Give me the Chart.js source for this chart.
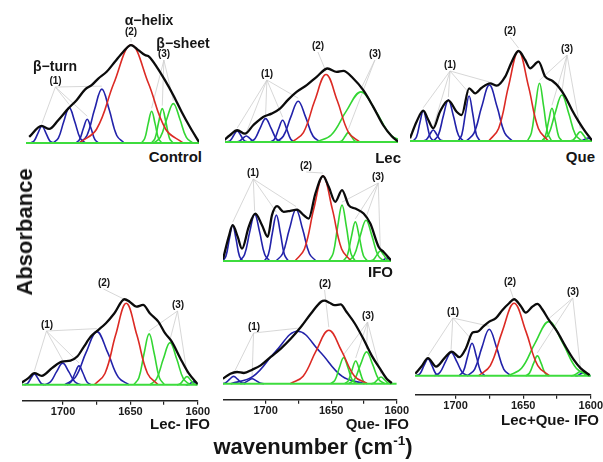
<!DOCTYPE html>
<html><head><meta charset="utf-8">
<script src="https://cdn.jsdelivr.net/npm/chart.js@4.4.1/dist/chart.umd.min.js"></script>
<style>
html,body{margin:0;padding:0;background:#fff;}
body{width:603px;height:462px;overflow:hidden;position:relative;font-family:"Liberation Sans",Arial,sans-serif;}
canvas{position:absolute;}
.t{position:absolute;font-weight:bold;color:#151515;white-space:nowrap;line-height:1;z-index:5;}
sup{font-size:62%;vertical-align:0.7em;}
</style></head><body>
<script>
// ---------- categories / labels ----------
const panelNames = ['Control', 'Lec', 'Que', 'IFO', 'Lec- IFO', 'Que- IFO', 'Lec+Que- IFO'];
const groupLabels = ['(1)', '(2)', '(3)'];
const structureNames = ['β−turn', 'α−helix', 'β−sheet'];
const tickLabels = [1700, 1650, 1600];

// ---------- data: [wavenumber cm-1, absorbance (a.u.)] ----------
const controlEnvelope = [[1727.6,6],[1718.3,17],[1712.6,14],[1705.8,22.7],[1698.3,34.3],[1692,42.7],[1685.7,53.3],[1680.7,57.7],[1675.7,64.3],[1669.4,71],[1663.2,81],[1656.9,91],[1651.1,97.7],[1645.6,92.7],[1640.6,87.7],[1637.4,86],[1631.8,76],[1625.6,62.7],[1619.3,47.7],[1613,31],[1606.8,16],[1600,1]];
const controlBlue = [
 [[1726.7,0],[1723.8,2.3],[1720.9,10.2],[1718,16.7],[1715.1,10.2],[1712.2,2.3],[1709.3,0]],
 [[1709.8,0],[1705.7,4.9],[1701.6,21.5],[1697.5,35.3],[1693.4,21.5],[1689.3,4.9],[1685.2,0]],
 [[1692.7,0],[1689.8,3.3],[1686.9,14.5],[1684,23.7],[1681.1,14.5],[1678.2,3.3],[1675.3,0]],
 [[1689.8,0],[1684.2,7.5],[1678.6,32.8],[1673,53.7],[1667.4,32.8],[1661.8,7.5],[1656.2,0]]
];
const controlRed = [[[1690,0],[1677,13.7],[1664,59.6],[1651,97.7],[1638,59.6],[1625,13.7],[1612,0]]];
const controlGreen = [
 [[1643.4,0],[1640.8,4.4],[1638.2,19.3],[1635.6,31.7],[1633,19.3],[1630.4,4.4],[1627.8,0]],
 [[1635.7,0],[1633,4.8],[1630.3,20.9],[1627.6,34.3],[1624.9,20.9],[1622.2,4.8],[1619.5,0]],
 [[1634,0],[1629.1,5.5],[1624.2,24],[1619.3,39.3],[1614.4,24],[1609.5,5.5],[1604.6,0]]
];

const lecEnvelope = [[1730.8,1.7],[1726.3,6.7],[1720.8,11.7],[1715,8.3],[1708.8,16.7],[1701.3,25],[1695,28.3],[1688.7,33.3],[1682.5,42.3],[1676.2,50],[1668.6,56.7],[1661.1,65],[1652.9,73.3],[1646.1,70],[1641.1,71],[1633.6,63.3],[1626.1,51.7],[1618.6,35],[1611.1,16.7],[1604.7,5.7],[1600,0.5]];
const lecBlue = [
 [[1728.6,0],[1726,1.5],[1723.4,6.7],[1720.8,11],[1718.2,6.7],[1715.6,1.5],[1713,0]],
 [[1721.8,0],[1719.2,0.8],[1716.6,3.7],[1714,6],[1711.4,3.7],[1708.8,0.8],[1706.2,0]],
 [[1711.5,0],[1707.5,3.3],[1703.5,14.2],[1699.5,23.3],[1695.5,14.2],[1691.5,3.3],[1687.5,0]],
 [[1695.7,0],[1692.7,3],[1689.7,13.2],[1686.7,21.7],[1683.7,13.2],[1680.7,3],[1677.7,0]],
 [[1691.8,0],[1686.2,5.7],[1680.6,24.8],[1675,40.7],[1669.4,24.8],[1663.8,5.7],[1658.2,0]]
];
const lecRed = [[[1679.6,0],[1671.1,9.4],[1662.6,41.1],[1654.1,67.3],[1645.6,41.1],[1637.1,9.4],[1628.6,0]]];
const lecGreen = [
 [[1661.4,0],[1650.2,7],[1639,30.5],[1627.8,50],[1616.6,30.5],[1605.4,7],[1594.2,0]],
 [[1644.3,0],[1642,1.3],[1639.7,5.7],[1637.4,9.3],[1635.1,5.7],[1632.8,1.3],[1630.5,0]]
];

const queEnvelope = [[1730,2.7],[1725.3,19.3],[1720.5,30.3],[1716.9,21],[1713.4,12.7],[1708.6,29.3],[1702.6,40.7],[1696.7,29.3],[1693.1,26],[1687.8,52.7],[1683.5,47.7],[1678.8,53.3],[1672.8,57.7],[1668,55.3],[1662,64.3],[1657.3,79.3],[1652.5,90],[1647.7,81],[1644.2,72.7],[1638.2,79.3],[1633.4,64.3],[1628.2,60],[1623.9,54.3],[1619.1,44.3],[1614.3,31],[1609.5,19.3],[1604.8,9.3],[1600,0.7]];
const queBlue = [
 [[1727.7,0],[1725.3,4.2],[1722.9,18.5],[1720.5,30.3],[1718.1,18.5],[1715.7,4.2],[1713.3,0]],
 [[1720.6,0],[1718.2,1.5],[1715.8,6.7],[1713.4,11],[1711,6.7],[1708.6,1.5],[1706.2,0]],
 [[1713.4,0],[1709.8,5.7],[1706.2,25],[1702.6,41],[1699,25],[1695.4,5.7],[1691.8,0]],
 [[1695.6,0],[1693,6.3],[1690.4,27.5],[1687.8,45],[1685.2,27.5],[1682.6,6.3],[1680,0]],
 [[1689.8,0],[1684.3,7.8],[1678.8,34.2],[1673.3,56],[1667.8,34.2],[1662.3,7.8],[1656.8,0]],
 [[1609,0],[1607,0.4],[1605,1.8],[1603,3],[1601,1.8],[1599,0.4],[1597,0]]
];
const queRed = [[[1673.8,0],[1666.7,12.6],[1659.6,54.9],[1652.5,90],[1645.4,54.9],[1638.3,12.6],[1631.2,0]]];
const queGreen = [
 [[1646.2,0],[1643.3,8.1],[1640.4,35.2],[1637.5,57.7],[1634.6,35.2],[1631.7,8.1],[1628.8,0]],
 [[1635.8,0],[1633.4,4.6],[1631,19.9],[1628.6,32.7],[1626.2,19.9],[1623.8,4.6],[1621.4,0]],
 [[1635.9,0],[1631.1,6.4],[1626.3,28.1],[1621.5,46],[1616.7,28.1],[1611.9,6.4],[1607.1,0]],
 [[1615.6,0],[1613.2,1.3],[1610.8,5.7],[1608.4,9.3],[1606,5.7],[1603.6,1.3],[1601.2,0]]
];

const ifoEnvelope = [[1730,1.7],[1725.6,24],[1722.5,35.7],[1718.6,24],[1715.3,12.3],[1710.1,34],[1705,47.3],[1699.8,35.7],[1695.4,24],[1692.1,45.7],[1688.2,54.7],[1683.1,49],[1677.9,50],[1672.7,51.3],[1667.6,45.7],[1663.7,42.3],[1658.5,67.3],[1652.6,84.7],[1648.2,74],[1643.1,59],[1637.9,70.7],[1632.8,55.7],[1627.6,52.3],[1621.2,47.3],[1616,37.3],[1609.5,14],[1605.7,9],[1600,0.7]];
const ifoBlue = [
 [[1730.3,0],[1727.7,5],[1725.1,21.8],[1722.5,35.7],[1719.9,21.8],[1717.3,5],[1714.7,0]],
 [[1717.2,0],[1713.3,6.5],[1709.4,28.5],[1705.5,46.7],[1701.6,28.5],[1697.7,6.5],[1693.8,0]],
 [[1698,0],[1694.9,6.4],[1691.8,27.9],[1688.7,45.7],[1685.6,27.9],[1682.5,6.4],[1679.4,0]],
 [[1689.1,0],[1683.9,7.2],[1678.7,31.3],[1673.5,51.3],[1668.3,31.3],[1663.1,7.2],[1657.9,0]],
 [[1609,0],[1607,0.4],[1605,1.8],[1603,3],[1601,1.8],[1599,0.4],[1597,0]]
];
const ifoRed = [[[1674.2,0],[1667,11.9],[1659.8,51.7],[1652.6,84.7],[1645.4,51.7],[1638.2,11.9],[1631,0]]];
const ifoGreen = [
 [[1648.1,0],[1644.7,7.8],[1641.3,34],[1637.9,55.7],[1634.5,34],[1631.1,7.8],[1627.7,0]],
 [[1636.9,0],[1633.8,5.5],[1630.7,23.8],[1627.6,39],[1624.5,23.8],[1621.4,5.5],[1618.3,0]],
 [[1633.1,0],[1628.5,5.7],[1623.9,24.8],[1619.3,40.7],[1614.7,24.8],[1610.1,5.7],[1605.5,0]],
 [[1616.1,0],[1613.5,1.4],[1610.9,6.1],[1608.3,10],[1605.7,6.1],[1603.1,1.4],[1600.5,0]]
];

const lecIfoEnvelope = [[1731.3,1.7],[1725.8,6.7],[1721.3,11.7],[1715.8,9],[1708.3,16.7],[1700.8,23.3],[1694.5,24.3],[1689.5,28.3],[1684.5,38.3],[1679.4,48.3],[1674.4,54.3],[1668.2,61.7],[1661.9,71.7],[1654.4,85.7],[1650.6,83.3],[1645.6,78.3],[1640.6,80],[1635.6,71.7],[1629.3,63.3],[1624.3,51.7],[1619.3,43.3],[1613,26.7],[1606.8,11.7],[1600,0.7]];
const lecIfoBlue = [
 [[1728.8,0],[1726.3,1.5],[1723.8,6.7],[1721.3,11],[1718.8,6.7],[1716.3,1.5],[1713.8,0]],
 [[1713.8,0],[1709.3,3],[1704.8,13.2],[1700.3,21.7],[1695.8,13.2],[1691.3,3],[1686.8,0]],
 [[1697.2,0],[1694.2,2.7],[1691.2,11.6],[1688.2,19],[1685.2,11.6],[1682.2,2.7],[1679.2,0]],
 [[1698.9,0],[1690.9,7.5],[1682.9,32.5],[1674.9,53.3],[1666.9,32.5],[1658.9,7.5],[1650.9,0]],
 [[1609,0],[1607,0.4],[1605,1.8],[1603,3],[1601,1.8],[1599,0.4],[1597,0]]
];
const lecIfoRed = [[[1676.8,0],[1668.9,11.4],[1661,49.8],[1653.1,81.7],[1645.2,49.8],[1637.3,11.4],[1629.4,0]]];
const lecIfoGreen = [
 [[1647.5,0],[1643.7,7.1],[1639.9,31.1],[1636.1,51],[1632.3,31.1],[1628.5,7.1],[1624.7,0]],
 [[1635.6,0],[1630.6,5.9],[1625.6,25.8],[1620.6,42.3],[1615.6,25.8],[1610.6,5.9],[1605.6,0]],
 [[1615.5,0],[1613,1.2],[1610.5,5.1],[1608,8.3],[1605.5,5.1],[1603,1.2],[1600.5,0]]
];

const queIfoEnvelope = [[1732.5,5],[1726.9,10],[1721.8,11.7],[1716.6,10.7],[1710.2,14],[1703.8,18.3],[1696.1,26.7],[1688.4,35],[1680.7,45],[1673,56.7],[1665.4,70],[1657.7,81.7],[1655.1,82.7],[1651.3,80.7],[1647.4,78.3],[1642.8,79],[1638.4,71.7],[1632,60],[1625.6,45],[1619.2,28.3],[1612.8,15],[1607.7,5],[1603.8,0.7]];
const queIfoBlue = [
 [[1733.4,0],[1730.4,1],[1727.4,4.5],[1724.4,7.3],[1721.4,4.5],[1718.4,1],[1715.4,0]],
 [[1719.3,0],[1716.3,0.7],[1713.3,3.1],[1710.3,5],[1707.3,3.1],[1704.3,0.7],[1701.3,0]],
 [[1726.6,0],[1709.6,7.3],[1692.6,31.9],[1675.6,52.3],[1658.6,31.9],[1641.6,7.3],[1624.6,0]]
];
const queIfoRed = [[[1681.2,0],[1671.4,7.5],[1661.6,32.5],[1651.8,53.3],[1642,32.5],[1632.2,7.5],[1622.4,0]]];
const queIfoGreen = [
 [[1650.4,0],[1647.1,3.6],[1643.8,15.9],[1640.5,26],[1637.2,15.9],[1633.9,3.6],[1630.6,0]],
 [[1639.7,0],[1636.9,3.2],[1634.1,13.8],[1631.3,22.7],[1628.5,13.8],[1625.7,3.2],[1622.9,0]],
 [[1636.8,0],[1632.2,4.4],[1627.6,19.3],[1623,31.7],[1618.4,19.3],[1613.8,4.4],[1609.2,0]],
 [[1619.8,0],[1617.2,0.9],[1614.6,4.1],[1612,6.7],[1609.4,4.1],[1606.8,0.9],[1604.2,0]]
];

const lqIfoEnvelope = [[1729.8,2],[1725.4,9],[1720.4,17.7],[1714.4,9.3],[1708.2,17.7],[1702.8,24.3],[1697.2,18.7],[1692.3,27.7],[1687.4,43.3],[1683.7,44.3],[1680,48.7],[1675.1,54.3],[1670.2,57.7],[1665.3,66],[1660.4,72.7],[1656.7,76.7],[1651.8,70],[1648.1,63.3],[1643.2,69.3],[1639.5,72],[1635.9,66.7],[1631,56],[1624.8,44.3],[1618.6,29.3],[1612.5,16],[1607.6,7.7],[1600.8,0.7]];
const lqIfoBlue = [
 [[1729.1,0],[1726.2,2.4],[1723.3,10.4],[1720.4,17],[1717.5,10.4],[1714.7,2.4],[1711.8,0]],
 [[1715.7,0],[1711.6,3.3],[1707.4,14.2],[1703.3,23.3],[1699.1,14.2],[1695,3.3],[1690.8,0]],
 [[1697.4,0],[1694.2,4.6],[1691,19.9],[1687.8,32.7],[1684.7,19.9],[1681.5,4.6],[1678.3,0]],
 [[1691.3,0],[1685.9,6.5],[1680.5,28.5],[1675.1,46.7],[1669.7,28.5],[1664.3,6.5],[1658.9,0]],
 [[1611.6,0],[1609.6,0.4],[1607.7,1.8],[1605.8,3],[1603.9,1.8],[1601.9,0.4],[1600,0]]
];
const lqIfoRed = [[[1683,0],[1674.3,10.2],[1665.5,44.3],[1656.7,72.7],[1647.9,44.3],[1639.2,10.2],[1630.4,0]]];
const lqIfoGreen = [
 [[1661.3,0],[1651.2,7.6],[1641.1,33.1],[1631,54.3],[1620.8,33.1],[1610.7,7.6],[1600.6,0]],
 [[1648.2,0],[1645.3,2.8],[1642.4,12.2],[1639.5,20],[1636.6,12.2],[1633.8,2.8],[1630.9,0]],
 [[1614.9,0],[1612.4,0.6],[1610,2.6],[1607.6,4.3],[1605.2,2.6],[1602.8,0.6],[1600.4,0]]
];

// ---------- styles ----------
const COL = {env:'#0b0b0b', blue:'#2222aa', red:'#dc2a24', green:'#33d633', base:'#3ddc3d', lead:'#cdcdcd'};
const FONT = '"Liberation Sans", Arial, sans-serif';
Chart.defaults.font.family = FONT;

// ---------- layout (page pixels) ----------
const panels = [
 {env:controlEnvelope, blue:controlBlue, red:controlRed, green:controlGreen,
  f:{x1600:199, ppc:1.33, xMax:1730, baseY:142.7, topY:26, botY:145.7, axis:false},
  nameAt:[202,156], notes:[[55.5,81],[131,32],[164,54]]},
 {env:lecEnvelope, blue:lecBlue, red:lecRed, green:lecGreen,
  f:{x1600:398, ppc:1.33, xMax:1730, baseY:141.7, topY:38, botY:144.7, axis:false},
  nameAt:[401,157], notes:[[267,74],[318,46],[375,54]]},
 {env:queEnvelope, blue:queBlue, red:queRed, green:queGreen,
  f:{x1600:591.7, ppc:1.398, xMax:1730, baseY:141, topY:24, botY:144, axis:false},
  nameAt:[595,156], notes:[[450,65],[510,31],[567,49]]},
 {env:ifoEnvelope, blue:ifoBlue, red:ifoRed, green:ifoGreen,
  f:{x1600:390.7, ppc:1.292, xMax:1730, baseY:260.7, topY:158, botY:263.7, axis:false},
  nameAt:[393,271], notes:[[253,173],[306,166],[378,177]]},
 {env:lecIfoEnvelope, blue:lecIfoBlue, red:lecIfoRed, green:lecIfoGreen,
  f:{x1600:198, ppc:1.345, xMax:1730.5, baseY:385, topY:275, botY:401, axis:true},
  nameAt:[210,423], notes:[[47,325],[104,283],[178,305]]},
 {env:queIfoEnvelope, blue:queIfoBlue, red:queIfoRed, green:queIfoGreen,
  f:{x1600:397, ppc:1.31, xMax:1732.5, baseY:383.3, topY:275, botY:399.3, axis:true},
  nameAt:[409,423], notes:[[254,327],[325,284],[368,316]]},
 {env:lqIfoEnvelope, blue:lqIfoBlue, red:lqIfoRed, green:lqIfoGreen,
  f:{x1600:590.7, ppc:1.35, xMax:1730, baseY:376, topY:275, botY:395, axis:true},
  nameAt:[599,419], notes:[[453,312],[510,282],[573,292]]}
];

const pts = arr => arr.map(q => ({x:q[0], y:q[1]}));
const line = (arr, color, w, smooth) => Object.assign({data:pts(arr), borderColor:color, borderWidth:w, pointRadius:0, fill:false},
  smooth ? {tension:0.4, cubicInterpolationMode:'default'} : {cubicInterpolationMode:'monotone'});
const peak = comp => comp.reduce((m, q) => q[1] > m[1] ? q : m);

function config(p, geo){
  const f = p.f;
  const datasets = [line(p.env, COL.env, 2.3, false), line([[f.xMax,0],[1600,0]], COL.base, 2, false)];
  p.red.forEach(c => datasets.push(line(c, COL.red, 1.6, true)));
  p.green.forEach(c => datasets.push(line(c, COL.green, 1.6, true)));
  p.blue.forEach(c => datasets.push(line(c, COL.blue, 1.6, true)));
  const groups = [p.blue.filter(c => peak(c)[0] > 1660), p.red, p.green];
  const leader = {id:'leader', beforeDatasetsDraw(chart){
    const ctx = chart.ctx, xs = chart.scales.x, ys = chart.scales.y, A = chart.chartArea;
    ctx.save(); ctx.strokeStyle = COL.lead; ctx.lineWidth = 0.8;
    groups.forEach((g, i) => {
      const lx = p.notes[i][0] - geo.caL + A.left, ly = p.notes[i][1] + 6 - geo.caT + A.top;
      g.forEach(c => { const pk = peak(c); ctx.beginPath(); ctx.moveTo(lx, ly);
        ctx.lineTo(xs.getPixelForValue(pk[0]), ys.getPixelForValue(pk[1]) - 3); ctx.stroke(); });
    });
    ctx.restore();
  }};
  return {type:'line', data:{datasets}, plugins:[leader], options:{
    responsive:false, animation:false, events:[], layout:{padding:0},
    plugins:{legend:{display:false}, tooltip:{enabled:false}, title:{display:false}},
    scales:{
      x:{type:'linear', reverse:true, min:1600, max:f.xMax, display:f.axis,
         afterBuildTicks: ax => { ax.ticks = ax.ticks.filter(t => t.value % 25 === 0); },
         grid:{display:true, drawOnChartArea:false, drawTicks:true, tickLength:4, color:'#222', lineWidth:1.2},
         border:{display:true, color:'#222', width:1.6},
         ticks:{stepSize:25, autoSkip:false, maxRotation:0, minRotation:0, padding:1, color:'#1a1a1a',
                font:{family:FONT, size:11, weight:'bold'},
                callback: v => tickLabels.includes(v) ? String(v) : ''}},
      y:{display:false, min:geo.yMin, max:geo.yMax}
    }}};
}

function build(p){
  const f = p.f;
  const caW = (f.xMax - 1600) * f.ppc, caH = f.botY - f.topY;
  const geo = {caL: f.x1600 - caW, caT: f.topY, yMin: -(f.botY - f.baseY), yMax: f.baseY - f.topY};
  const make = (w, h) => {
    const cv = document.createElement('canvas');
    cv.width = w; cv.height = h; cv.style.width = w + 'px'; cv.style.height = h + 'px';
    document.body.appendChild(cv);
    return new Chart(cv, config(p, geo));
  };
  let w0 = Math.round(caW) + 40, h0 = Math.round(caH) + 30;
  let ch = make(w0, h0);
  const a = ch.chartArea;
  const pl = a.left, pr = w0 - a.right, pt = a.top, pb = h0 - a.bottom;
  const cv0 = ch.canvas; ch.destroy(); cv0.remove();
  const w = Math.round(caW + pl + pr), h = Math.round(caH + pt + pb);
  ch = make(w, h);
  ch.canvas.style.left = Math.round(geo.caL - ch.chartArea.left) + 'px';
  ch.canvas.style.top = Math.round(geo.caT - ch.chartArea.top) + 'px';
}
panels.forEach(build);

// ---------- text ----------
function txt(html, x, y, size, anchor, extra){
  const d = document.createElement('div'); d.className = 't'; d.innerHTML = html;
  d.style.left = x + 'px'; d.style.top = y + 'px'; d.style.fontSize = size + 'px';
  d.style.transform = (anchor === 'r' ? 'translate(-100%,-50%)' : 'translate(-50%,-50%)') + (extra || '');
  document.body.appendChild(d); return d;
}
panels.forEach((p, i) => {
  txt(panelNames[i], p.nameAt[0], p.nameAt[1], 15, 'r');
  p.notes.forEach((n, k) => txt(groupLabels[k], n[0], n[1], 10, 'c'));
});
txt(structureNames[0], 55, 66, 14, 'c');
txt(structureNames[1], 149, 20, 14, 'c');
txt(structureNames[2], 183, 43, 14, 'c');
txt('Absorbance', 25, 232, 22, 'c', ' rotate(-90deg)');
txt('wavenumber (cm<sup>-1</sup>)', 313, 446, 22, 'c');
</script>
</body></html>
